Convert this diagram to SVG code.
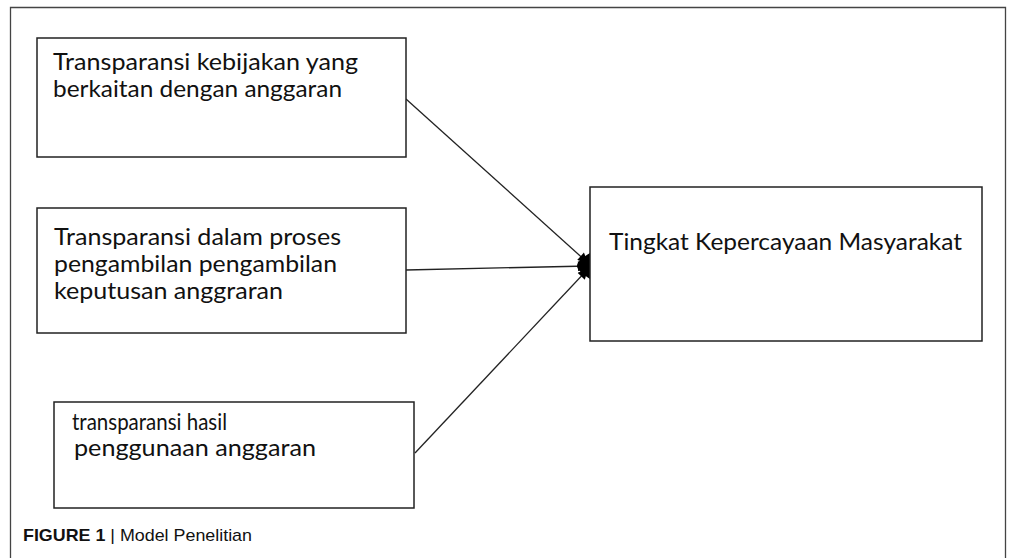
<svg xmlns="http://www.w3.org/2000/svg" width="1009" height="558" viewBox="0 0 1009 558">
<style>
.frame{fill:none;stroke:#444;stroke-width:1.3}
.box{fill:#fff;stroke:#222;stroke-width:1.5}
.t{font-family:Lato,"Open Sans","Liberation Sans",sans-serif;font-size:23px;fill:#111}
.conn{stroke:#222;stroke-width:1.3;fill:none}
.cap{font-family:"Liberation Sans",Arial,sans-serif;font-size:17px;fill:#111}
</style>
<defs>
<marker id="ah" viewBox="0 0 10 10" refX="10" refY="5" markerWidth="12" markerHeight="10" markerUnits="userSpaceOnUse" orient="auto">
<path d="M0,0 L10,5 L0,10 z" fill="#000"/>
</marker>
</defs>
<rect width="1009" height="558" fill="#fff"/>
<path class="frame" d="M10.5,560 V7.5 H1005.5 V560"/>
<g id="connectors">
<line class="conn" x1="406" y1="99" x2="588" y2="263" marker-end="url(#ah)"/>
<line class="conn" x1="406" y1="270" x2="588" y2="266" marker-end="url(#ah)"/>
<line class="conn" x1="415" y1="453" x2="588" y2="269" marker-end="url(#ah)"/>
<path d="M590,253 C583,257 577,262 577,266 C577,270 583,274 590,279 Z" fill="#000"/>
</g>
<g id="node1">
<rect class="box" x="37" y="38" width="369" height="119"/>
<text class="t" x="53" y="70" textLength="305" lengthAdjust="spacingAndGlyphs">Transparansi kebijakan yang</text>
<text class="t" x="53" y="97" textLength="289" lengthAdjust="spacingAndGlyphs">berkaitan dengan anggaran</text>
</g>
<g id="node2">
<rect class="box" x="37" y="208" width="369" height="125"/>
<text class="t" x="54" y="245" textLength="287" lengthAdjust="spacingAndGlyphs">Transparansi dalam proses</text>
<text class="t" x="54" y="272" textLength="283" lengthAdjust="spacingAndGlyphs">pengambilan pengambilan</text>
<text class="t" x="54" y="299" textLength="229" lengthAdjust="spacingAndGlyphs">keputusan anggraran</text>
</g>
<g id="node3">
<rect class="box" x="54" y="402" width="360" height="106"/>
<text class="t" x="72" y="430" textLength="155" lengthAdjust="spacingAndGlyphs">transparansi hasil</text>
<text class="t" x="74" y="456" textLength="242" lengthAdjust="spacingAndGlyphs">penggunaan anggaran</text>
</g>
<g id="node4">
<rect class="box" x="590" y="187" width="392" height="154"/>
<text class="t" x="609" y="250" textLength="353" lengthAdjust="spacingAndGlyphs">Tingkat Kepercayaan Masyarakat</text>
</g>
<text class="cap" x="23" y="541" textLength="229" lengthAdjust="spacingAndGlyphs"><tspan font-weight="bold">FIGURE 1</tspan> | Model Penelitian</text>
</svg>
